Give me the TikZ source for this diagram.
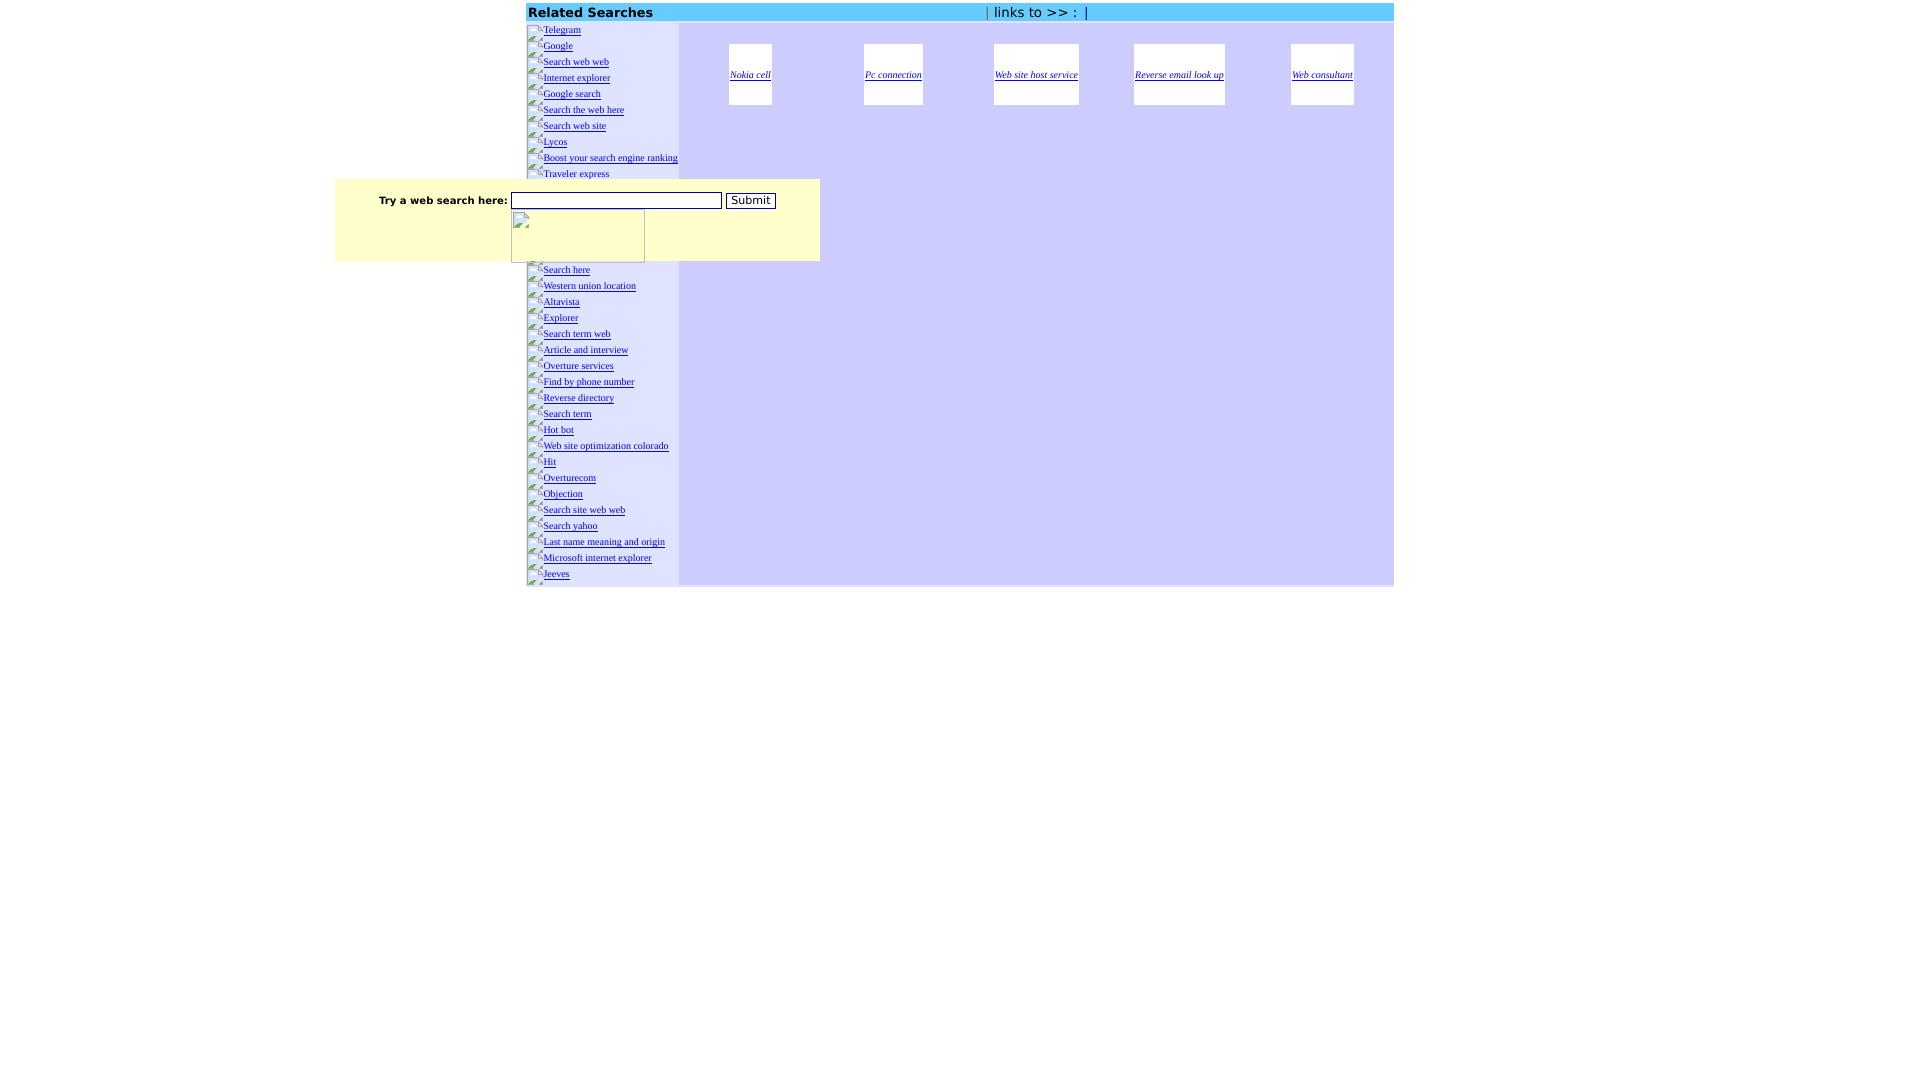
\documentclass[tikz,border=0pt]{standalone}
\usepackage{fontspec}
\setmainfont{Liberation Serif}
\newfontfamily\verdanafont{DejaVu Sans}
\usepackage{tikz}
\usetikzlibrary{positioning}

\definecolor{pagebg}{HTML}{FFFFFD}
\definecolor{headbar}{HTML}{66CCFF}
\definecolor{leftcol}{HTML}{DEE3FF}
\definecolor{rightcol}{HTML}{CCCCFF}
\definecolor{searchbg}{HTML}{FFFFCC}
\definecolor{linkblue}{HTML}{0000FF}
\definecolor{inputblue}{HTML}{0000AA}
\definecolor{iconline}{HTML}{A8A8A8}
\definecolor{iconsky}{HTML}{D3E2F8}
\definecolor{iconhill}{HTML}{6BB043}

\newcommand{\linkline}[1]{\underline{\smash{#1}}}

\tikzset{
    brokenicon/.pic={
        \fill[iconsky] (0.5,0.5) -- (11,0.5) -- (15.5,5) -- (15.5,7) -- (7,15.5) -- (0.5,15.5) -- cycle;
        \fill[white] (3,6) -- (5,3.5) -- (8,3.5) -- (10,6) -- cycle;
        \fill[iconhill] (1,15.5) .. controls (3,12.5) and (6,10.5) .. (9.5,11) -- (5.5,15.5) -- cycle;
        \fill[iconhill] (12,15.5) -- (15.5,12) -- (15.5,15.5) -- cycle;
        \draw[iconline, line width=0.75pt] (7,15.5) -- (0.5,15.5) -- (0.5,0.5) -- (11,0.5) -- (15.5,5) -- (15.5,7);
        \draw[iconline, line width=0.5pt] (11,0.5) -- (11,5) -- (15.5,5);
        \draw[iconline, line width=0.75pt] (12,15.5) -- (15.5,15.5) -- (15.5,12);
    }
}

\begin{document}
\begin{tikzpicture}[
    x=0.75pt, y=-0.75pt,
    every node/.style={inner sep=0pt, outer sep=0pt},
    sidelink/.style={anchor=base west, text=linkblue, font=\fontsize{7.5}{9}\selectfont},
    celllink/.style={anchor=base, text=linkblue, font=\fontsize{7.5}{9}\selectfont\itshape},
    headtext/.style={anchor=base west, text=black, font=\verdanafont\fontsize{10}{12}\selectfont}
]

\fill[pagebg] (0,0) rectangle (1920,1080);
\useasboundingbox (0,0) rectangle (1920,1080);

\fill[headbar] (526,3) rectangle (1394,21);
\fill[leftcol] (526,21) rectangle (1394,587);
\fill[rightcol] (679,23) rectangle (1394,585);

\node[headtext, font=\verdanafont\bfseries\fontsize{9.55}{12}\selectfont] (title) at (528,17.5) {Related Searches};
\node[headtext, text=olive!70!black] (barleft) at (985,18) {|};
\node[headtext] (linksto) at (994,18) {links to >> :};
\node[headtext, text=blue!70!black] (barright) at (1084,18) {|};

\foreach \rowidx/\linktext in {
    0/Telegram, 1/Google, 2/Search web web, 3/Internet explorer, 4/Google search,
    5/Search the web here, 6/Search web site, 7/Lycos, 8/Boost your search engine ranking,
    9/Traveler express, 15/Search here, 16/Western union location, 17/Altavista,
    18/Explorer, 19/Search term web, 20/Article and interview, 21/Overture services,
    22/Find by phone number, 23/Reverse directory, 24/Search term, 25/Hot bot,
    26/Web site optimization colorado, 27/Hit, 28/Overturecom, 29/Objection,
    30/Search site web web, 31/Search yahoo, 32/Last name meaning and origin,
    33/Microsoft internet explorer, 34/Jeeves} {
    \pic at (527,{25+16*\rowidx}) {brokenicon};
    \node[sidelink] (link\rowidx) at (543.5,{33.5+16*\rowidx}) {\linkline{\linktext}};
}
\pic at (527,249) {brokenicon};

\fill[white] (729,44) rectangle (772,105);
\fill[white] (864,44) rectangle (923,105);
\fill[white] (994,44) rectangle (1079,105);
\fill[white] (1134,44) rectangle (1225,105);
\fill[white] (1291,44) rectangle (1354,105);

\node[celllink] (nokia) at (750.5,78.5) {\linkline{Nokia cell}};
\node[celllink] (pcconn) at (893.5,78.5) {\linkline{Pc connection}};
\node[celllink] (hostservice) at (1036.5,78.5) {\linkline{Web site host service}};
\node[celllink] (emaillook) at (1179.5,78.5) {\linkline{Reverse email look up}};
\node[celllink] (consultant) at (1322.5,78.5) {\linkline{Web consultant}};

\fill[searchbg] (335,179) rectangle (820,261);
\node[anchor=base east, font=\verdanafont\bfseries\fontsize{7.55}{10}\selectfont] (searchlabel) at (508,205) {Try a web search here:};
\draw[inputblue, fill=white, line width=0.75pt] (511.5,192.5) rectangle (721.5,208.5);
\draw[inputblue, fill=white, line width=0.75pt] (726.5,193.5) rectangle (775.5,208.5);
\node[anchor=base, font=\verdanafont\fontsize{8.3}{10}\selectfont] (submit) at (751,205) {Submit};
\draw[black!25, line width=0.75pt] (511.5,209.5) rectangle (644.5,262.5);
\pic at (513,212) {brokenicon};

\end{tikzpicture}
\end{document}
